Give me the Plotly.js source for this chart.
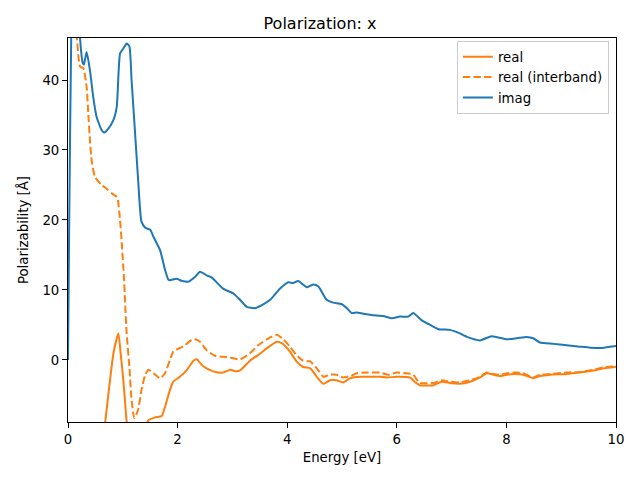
<!DOCTYPE html>
<html>
<head>
<meta charset="utf-8">
<script src="https://cdn.plot.ly/plotly-3.0.1.min.js"></script>
<style>html,body{margin:0;padding:0;background:#fff;}#chart{width:640px;height:480px;}</style>
</head>
<body>
<div id="chart"></div>
<script>
// Energy grids (eV) and values (Å)
const imagE = [0.00,0.02,0.06,0.09,0.18,0.22,0.27,0.29,0.34,0.40,0.46,0.52,0.61,0.66,0.74,0.83,0.89,0.95,1.01,1.07,1.12,1.16,1.22,1.28,1.34,1.41,1.50,1.56,1.68,1.77,1.83,1.86,1.98,2.08,2.20,2.32,2.41,2.53,2.62,2.83,3.02,3.14,3.26,3.41,3.53,3.69,3.87,4.02,4.11,4.20,4.36,4.48,4.57,4.72,4.84,4.99,5.09,5.18,5.27,5.39,5.57,5.75,5.91,6.06,6.21,6.30,6.45,6.61,6.76,6.97,7.12,7.28,7.52,7.73,8.01,8.19,8.37,8.49,8.61,8.86,9.10,9.34,9.53,9.71,10.00];
const imagV = [0,18,47,55,55,46,42.4,42.2,44.0,41.4,37.6,34.8,32.9,32.5,33.1,34.3,36.2,43.8,44.5,45.2,44.8,40.0,32.9,25.7,19.8,18.9,18.6,17.6,15.7,12.9,11.5,11.4,11.6,11.3,11.2,11.9,12.6,12.1,11.8,10.2,9.5,8.6,7.6,7.4,7.8,8.6,10.2,11.1,11.0,11.3,10.4,10.8,10.5,8.6,8.2,8.0,7.4,6.7,6.8,6.6,6.4,6.3,5.95,6.2,6.2,6.7,5.7,5.0,4.4,4.3,3.9,3.3,2.8,3.4,2.95,3.1,3.3,3.1,2.5,2.3,2.1,1.9,1.75,1.7,2.0];

const interE = [0.00,0.10,0.16,0.22,0.28,0.34,0.37,0.40,0.43,0.49,0.61,0.70,0.80,0.89,0.91,0.95,0.985,1.02,1.04,1.07,1.12,1.16,1.21,1.28,1.34,1.41,1.47,1.56,1.68,1.77,1.86,1.92,1.95,2.10,2.26,2.32,2.41,2.53,2.68,2.90,3.14,3.32,3.47,3.63,3.81,3.93,4.05,4.17,4.29,4.42,4.54,4.66,4.78,4.90,5.02,5.15,5.27,5.45,5.69,5.84,6.00,6.18,6.30,6.39,6.42,6.67,6.82,6.97,7.15,7.34,7.52,7.64,7.76,7.88,8.01,8.16,8.31,8.49,8.61,8.80,9.10,9.34,9.59,9.77,10.00];
const interV = [80,60,46.5,41.9,41.7,39.0,35.2,31.4,28.6,26.2,25.0,24.5,23.8,23.3,22.9,20.0,16.2,11.9,8.6,3.8,-1.0,-5.7,-8.3,-7.1,-4.3,-2.1,-1.4,-1.9,-2.6,-1.9,0.0,1.2,1.4,1.9,2.9,2.95,2.6,1.4,0.6,0.4,0.1,0.95,2.1,2.95,3.6,2.95,1.9,0.7,-0.1,-0.2,-1.2,-2.4,-2.1,-2.1,-2.5,-2.3,-1.9,-1.8,-1.8,-2.1,-1.8,-1.9,-2.1,-3.1,-3.3,-3.3,-2.9,-3.1,-3.2,-2.9,-2.4,-1.8,-2.0,-2.1,-1.9,-1.8,-1.9,-2.5,-2.1,-2.0,-1.8,-1.7,-1.4,-1.05,-0.9];

const realE = [0.00,0.20,0.40,0.55,0.68,0.75,0.83,0.92,0.96,1.01,1.07,1.15,1.30,1.47,1.59,1.71,1.77,1.86,1.92,2.04,2.17,2.29,2.35,2.44,2.53,2.68,2.83,2.96,3.05,3.14,3.32,3.47,3.63,3.81,3.90,4.05,4.17,4.29,4.42,4.54,4.66,4.78,4.90,5.02,5.15,5.33,5.57,5.69,5.82,6.00,6.24,6.33,6.42,6.67,6.82,6.97,7.15,7.34,7.52,7.64,7.76,7.88,8.01,8.16,8.31,8.49,8.61,8.80,9.10,9.34,9.59,9.77,10.00];
const realV = [-150,-60,-30,-16,-8.8,-4.0,1.0,3.8,1.0,-2.9,-8.8,-14,-12,-8.6,-8.2,-8.0,-6.7,-4.3,-3.1,-2.4,-1.4,-0.1,0.1,-0.7,-1.2,-1.7,-1.8,-1.4,-1.6,-1.5,-0.1,0.7,1.7,2.6,2.4,1.2,-0.2,-1.0,-1.2,-2.4,-3.4,-2.9,-2.9,-3.2,-2.6,-2.4,-2.4,-2.4,-2.5,-2.4,-2.5,-3.15,-3.6,-3.6,-3.1,-3.3,-3.4,-3.1,-2.5,-1.9,-2.1,-2.3,-2.1,-2.0,-2.1,-2.6,-2.3,-2.1,-2.0,-1.8,-1.5,-1.2,-0.95];

const xTicks = [0,2,4,6,8,10];
const yTicks = [0,10,20,30,40];

const font = {family: 'DejaVu Sans, sans-serif', size: 13.3, color: '#000'};

const traces = [
  {x: realE, y: realV, name: 'real', mode: 'lines', line: {color: '#ff7f0e', width: 2, shape: 'spline', smoothing: 0.5}},
  {x: interE, y: interV, name: 'real (interband)', mode: 'lines', line: {color: '#ff7f0e', width: 2, dash: '7.4px,3.2px', shape: 'spline', smoothing: 0.5}},
  {x: imagE, y: imagV, name: 'imag', mode: 'lines', line: {color: '#1f77b4', width: 2, shape: 'spline', smoothing: 0.5}}
];

const axisCommon = {
  showgrid: false, zeroline: false, showline: true, mirror: true,
  linecolor: '#000', linewidth: 1, ticks: 'outside', ticklen: 5, tickwidth: 1,
  tickcolor: '#000', tickfont: font
};

const layout = {
  width: 640, height: 480,
  margin: {l: 68, r: 24, t: 38, b: 58},
  paper_bgcolor: '#fff', plot_bgcolor: '#fff',
  font: font,
  title: {text: 'Polarization: x', font: {family: 'DejaVu Sans, sans-serif', size: 16, color: '#000'}, x: 0.5, xanchor: 'center', y: 0.952, yanchor: 'middle'},
  xaxis: Object.assign({}, axisCommon, {range: [0, 10], tickvals: xTicks, ticktext: xTicks.map(String),
    title: {text: 'Energy [eV]', font: font, standoff: 6}}),
  yaxis: Object.assign({}, axisCommon, {range: [-8.86, 46], tickvals: yTicks, ticktext: yTicks.map(String),
    title: {text: 'Polarizability [Å]', font: font, standoff: 10}}),
  showlegend: true,
  legend: {x: 0.987, xanchor: 'right', y: 0.993, yanchor: 'top', bgcolor: 'rgba(255,255,255,0.8)',
    bordercolor: '#cccccc', borderwidth: 1, font: font, tracegroupgap: 0, itemwidth: 30}
};

Plotly.newPlot('chart', traces, layout, {displayModeBar: false, staticPlot: true});
</script>
</body>
</html>
